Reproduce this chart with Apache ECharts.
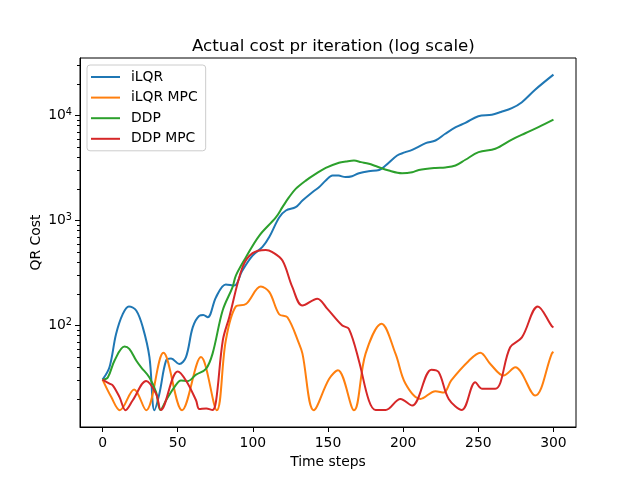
<!DOCTYPE html>
<html>
<head>
<meta charset="utf-8">
<script src="https://cdn.jsdelivr.net/npm/echarts@6/dist/echarts.min.js"></script>
<style>
  html, body { margin: 0; padding: 0; background: #fff; }
  #chart { width: 640px; height: 480px; }
</style>
</head>
<body>
<div id="chart"></div>
<script>
// ── 数据（从图上读出的估计值，时间步 → 代价） ──
const ilqrT = [0, 4.6, 9, 13.5, 17.5, 22.4, 26.8, 31.2, 34.5, 37.8, 42.3, 45.6, 51, 55.5, 60, 64.4, 67, 70, 75.5, 82, 87.6, 93, 99.8, 106.4, 111, 117.5, 122, 128.5, 133, 139.6, 144, 148.5, 153, 157, 161.7, 166, 170.6, 177, 184, 188.3, 196, 201, 206, 215, 221.5, 228, 235, 241.4, 250, 259, 265, 272.3, 279, 287.8, 300];
const ilqrCost = [30.5, 40, 83, 129, 152, 139, 96, 50, 15.6, 22.4, 46.5, 48.5, 43, 50, 96, 124, 126, 120, 186, 246, 240, 334, 464, 560, 700, 1070, 1245, 1340, 1550, 1860, 2075, 2400, 2690, 2680, 2590, 2640, 2820, 2950, 3030, 3340, 4160, 4450, 4710, 5450, 5780, 6700, 7740, 8510, 9850, 10170, 10800, 11750, 13400, 17600, 24500];

const ilqrMpcT = [0, 5.8, 11.5, 21, 29, 40.5, 52.9, 65.5, 76, 82, 88.7, 95.4, 105.3, 111, 117.5, 123, 130.8, 133, 140.5, 150.7, 156.6, 167.3, 175, 185.6, 194.9, 201.5, 211.5, 221.5, 227, 232, 243.6, 251.3, 258, 266.8, 274.6, 287.8, 298.9, 300];
const ilqrMpcCost = [30.5, 20.8, 15.6, 24.6, 15.6, 55, 15.6, 50, 15.6, 72, 152, 160, 235, 208, 128, 120, 67, 54, 15.6, 31, 37.5, 15.6, 54, 104, 54, 28, 20, 23.7, 23, 30, 46, 55, 43, 33.4, 40, 21.5, 54, 56];

const ddpT = [0, 3.5, 8, 14.6, 17.8, 22.4, 25.7, 31.2, 35.6, 38.5, 42.3, 47.8, 52.2, 56.6, 62.2, 68.8, 73.2, 79.9, 86.5, 88.7, 95.4, 104.2, 115.3, 119.7, 124.1, 128.5, 135.2, 141.8, 148.5, 157.3, 162, 167.3, 172, 177.2, 181.7, 190.5, 199.3, 206, 210.4, 221.5, 228, 234.8, 241.4, 250.2, 261.3, 272.3, 281.2, 290, 300];
const ddpCost = [30.5, 32, 46.5, 63, 60, 46.5, 40, 32, 23.2, 15.7, 19.4, 25.9, 30, 29.5, 34, 38.6, 54, 139, 232, 299, 447, 715, 1070, 1340, 1667, 2000, 2400, 2780, 3170, 3550, 3650, 3725, 3600, 3470, 3300, 2990, 2820, 2880, 3030, 3170, 3200, 3340, 3790, 4480, 4820, 5900, 6780, 7740, 9120];

const ddpMpcT = [0, 4.6, 6.9, 11.3, 15.3, 20.1, 29, 35.6, 38.8, 50, 55.5, 62.2, 64.4, 69, 73.2, 75.5, 80, 84.3, 93.1, 99.8, 108.6, 113, 119.7, 126.3, 133, 142.9, 149.6, 159.5, 163.9, 170.6, 177.2, 181.7, 188.3, 198.2, 206, 218.8, 223.6, 230.3, 239.1, 248, 252.4, 261.3, 271.2, 279, 289.6, 298.9, 300];
const ddpMpcCost = [30.5, 28, 26.8, 20.8, 15.6, 19.4, 29.6, 22.4, 15.7, 36.5, 30, 19.4, 16, 16.2, 15.7, 19, 72, 120, 359, 489, 525, 500, 416, 232, 155, 180, 144, 100, 93, 46, 19.3, 15.7, 15.7, 20, 17.3, 38, 36, 20, 15.7, 28.8, 25, 25, 62, 77, 152, 98.6, 96];

const seriesNames = ['iLQR', 'iLQR MPC', 'DDP', 'DDP MPC'];
const xTicks = [0, 50, 100, 150, 200, 250, 300];
const yMajorTicks = [100, 1000, 10000];
const yMinorTicks = [20, 30, 40, 50, 60, 70, 80, 90, 200, 300, 400, 500, 600, 700, 800, 900,
  2000, 3000, 4000, 5000, 6000, 7000, 8000, 9000, 20000, 30000];

// ── matplotlib 默认风格 ──
const FONT = "'DejaVu Sans', sans-serif";
const COLORS = ['#1f77b4', '#ff7f0e', '#2ca02c', '#d62728'];
const Y_MIN = 10.8, Y_MAX = 35300;

function pairs(ts, vs) {
  return ts.map((t, i) => [t, vs[i]]);
}

function lineSeries(name, data, color) {
  return {
    name,
    type: 'line',
    data,
    smooth: 0.35,
    symbol: 'none',
    lineStyle: { width: 2, color },
    itemStyle: { color },
    animation: false,
  };
}

const chart = echarts.init(document.getElementById('chart'), null, { renderer: 'canvas' });
chart.setOption({
  backgroundColor: '#fff',
  textStyle: { fontFamily: FONT, color: '#000' },
  title: {
    text: 'Actual cost pr iteration (log scale)',
    left: 187, top: 33,
    textStyle: { fontFamily: FONT, fontSize: 16.7, fontWeight: 'normal', color: '#000' },
  },
  legend: {
    data: seriesNames,
    orient: 'vertical',
    left: 87, top: 65,
    padding: [4, 8, 4, 4],
    icon: 'rect',
    itemWidth: 29, itemHeight: 2, itemGap: 4.6,
    backgroundColor: 'rgba(255,255,255,0.8)',
    borderColor: '#cccccc', borderWidth: 1, borderRadius: 3,
    textStyle: { fontFamily: FONT, fontSize: 13.9, color: '#000', padding: [0, 0, 0, 6], lineHeight: 16 },
  },
  grid: {
    left: 80, right: 64, top: 58, bottom: 53,
    show: true, borderColor: '#000', borderWidth: 1, backgroundColor: 'transparent',
  },
  xAxis: {
    type: 'value', min: -15, max: 315,
    name: 'Time steps', nameLocation: 'middle', nameGap: 27,
    nameTextStyle: { fontFamily: FONT, fontSize: 13.9, color: '#000' },
    axisLine: { onZero: false, lineStyle: { color: '#000', width: 1 } },
    axisTick: { show: true, inside: false, length: 5, customValues: xTicks, lineStyle: { color: '#000' } },
    axisLabel: { customValues: xTicks, margin: 9, fontFamily: FONT, fontSize: 13.9, color: '#000' },
    splitLine: { show: false },
  },
  yAxis: [{
    type: 'log', logBase: 10, min: Y_MIN, max: Y_MAX,
    name: 'QR Cost', nameLocation: 'middle', nameGap: 37, nameRotate: 90, nameMoveOverlap: false,
    nameTextStyle: { fontFamily: FONT, fontSize: 13.9, color: '#000' },
    axisLine: { show: true, onZero: false, lineStyle: { color: '#000', width: 1 } },
    axisTick: { show: true, inside: false, length: 5, customValues: yMajorTicks, lineStyle: { color: '#000' } },
    minorTick: { show: false },
    axisLabel: {
      customValues: yMajorTicks, margin: 8,
      formatter: (v) => '{b|10}{s|' + Math.round(Math.log10(v)) + '}',
      rich: {
        b: { fontFamily: FONT, fontSize: 13.9, color: '#000' },
        s: { fontFamily: FONT, fontSize: 9.7, color: '#000', verticalAlign: 'top', padding: [0, 0, 6, 0] },
      },
    },
    splitLine: { show: false },
  }, {
    // 次刻度（2..9 × 10^k），只画短刻度线
    type: 'log', logBase: 10, min: Y_MIN, max: Y_MAX, position: 'left',
    axisLine: { show: false, onZero: false },
    axisTick: { show: true, inside: false, length: 3, customValues: yMinorTicks, lineStyle: { color: '#000' } },
    axisLabel: { show: false },
    splitLine: { show: false },
  }],
  series: [
    lineSeries(seriesNames[0], pairs(ilqrT, ilqrCost), COLORS[0]),
    lineSeries(seriesNames[1], pairs(ilqrMpcT, ilqrMpcCost), COLORS[1]),
    lineSeries(seriesNames[2], pairs(ddpT, ddpCost), COLORS[2]),
    lineSeries(seriesNames[3], pairs(ddpMpcT, ddpMpcCost), COLORS[3]),
  ],
});
</script>
</body>
</html>
